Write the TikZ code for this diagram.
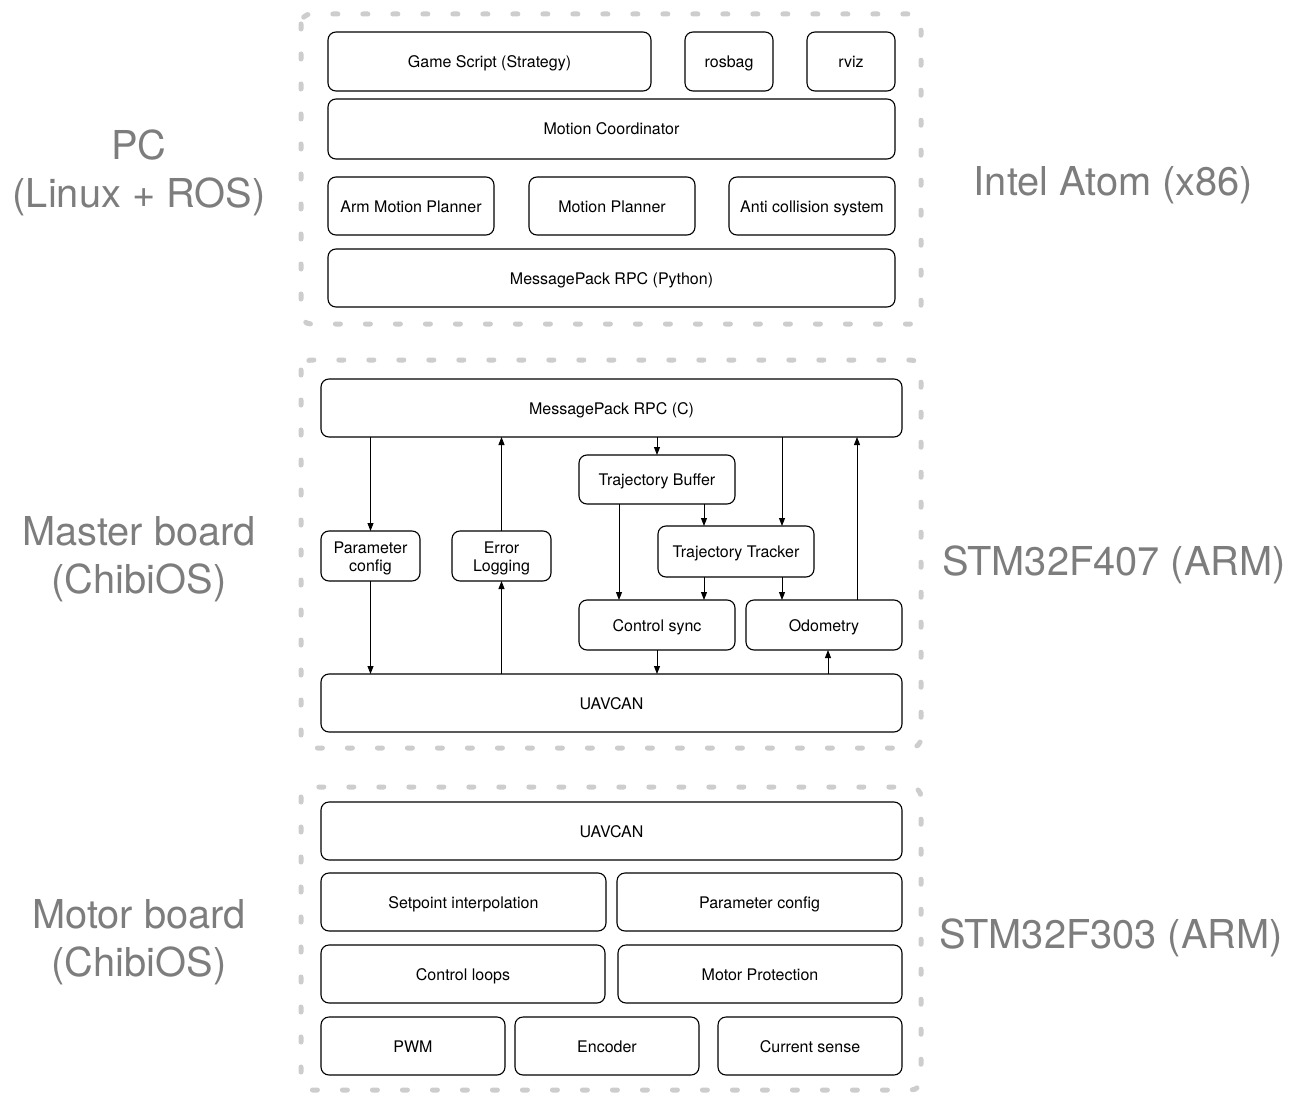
\documentclass[tikz,border=0pt]{standalone}
\usepackage{fontspec}
\setmainfont{TeX Gyre Heros}
\usetikzlibrary{positioning,arrows.meta}
\definecolor{framegray}{RGB}{205,205,205}
\definecolor{labelgray}{RGB}{125,125,125}

\begin{document}
\begin{tikzpicture}[
    x=1pt, y=-1pt,
    every node/.style={font=\fontsize{16}{18}\selectfont},
    box/.style={draw, line width=1.1pt, rounded corners=8pt, inner sep=0pt, outer sep=0pt,
        minimum height=58, text height=12pt, text depth=0pt, align=center},
    mbox/.style={draw, line width=1.1pt, rounded corners=8pt, inner sep=0pt, outer sep=0pt,
        text height=30pt, text depth=0pt, align=center},
    grp/.style={draw=framegray, line width=5pt, line cap=round, dash pattern=on 5pt off 25pt, rounded corners=10pt},
    side/.style={text=labelgray, align=center, font=\fontsize{39.8}{48}\selectfont},
    arr/.style={-{Triangle[length=8pt,width=6pt]}, line width=0.9pt}
]
\useasboundingbox (0,0) rectangle (1293,1105);

% groups
\draw[grp] (301,14) rectangle (921,324);
\draw[grp] (301,360) rectangle (921,748);
\draw[grp] (301,787) rectangle (921,1090);

% side labels
\node[side] (pc) at (139,173) {PC\\(Linux + ROS)};
\node[side] (master) at (139,559.5) {Master board\\(ChibiOS)};
\node[side] (motor) at (139,942) {Motor board\\(ChibiOS)};
\node[side] (atom) at (1113.5,185) {Intel Atom (x86)};
\node[side] (f407) at (1114,565) {STM32F407 (ARM)};
\node[side] (f303) at (1111,938) {STM32F303 (ARM)};

% PC
\node[box, minimum width=323, minimum height=59] (gs) at (489.5,61.5) {Game Script (Strategy)};
\node[box, minimum width=88, minimum height=59, right=34pt of gs] (rosbag) {rosbag};
\node[box, minimum width=88, minimum height=59, right=34pt of rosbag] (rviz) {rviz};
\node[box, minimum width=567, minimum height=60] (mc) at (611.5,129) {Motion Coordinator};
\node[box, minimum width=166] (amp) at (411,206) {Arm Motion Planner};
\node[box, minimum width=166, right=35pt of amp] (mp) {Motion Planner};
\node[box, minimum width=166, right=34pt of mp] (acs) {Anti collision system};
\node[box, minimum width=567] (rpcpy) at (611.5,278) {MessagePack RPC (Python)};

% master board
\node[box, minimum width=581] (rpcc) at (611.5,408) {MessagePack RPC (C)};
\node[box, minimum width=581] (uavm) at (611.5,703) {UAVCAN};
\node[mbox, minimum width=99, minimum height=50] (pcfg) at (370.5,556) {Parameter\\config};
\node[mbox, minimum width=99, minimum height=50, right=32pt of pcfg] (elog) {Error\\Logging};
\node[box, minimum width=156, minimum height=49] (tbuf) at (657,479.5) {Trajectory Buffer};
\node[box, minimum width=156, minimum height=51] (ttrk) at (736,551.5) {Trajectory Tracker};
\node[box, minimum width=156, minimum height=50] (csync) at (657,625) {Control sync};
\node[box, minimum width=156, minimum height=50, right=11pt of csync] (odom) {Odometry};

% arrow feet off the centre lines
\coordinate (trkin) at ([xshift=-32pt]ttrk.north east);
\coordinate (trkout) at ([xshift=-32pt]ttrk.south east);
\coordinate (trkcs) at ([xshift=46pt]ttrk.south west);
\coordinate (bufcs) at ([xshift=40pt]tbuf.south west);
\coordinate (buftrk) at ([xshift=-31pt]tbuf.south east);
\coordinate (odomout) at ([xshift=-45pt]odom.north east);
\coordinate (odomin) at ([xshift=4pt]odom.south);

\draw[arr] (rpcc.south -| pcfg.north) -- (pcfg.north);
\draw[arr] (pcfg.south) -- (pcfg.south |- uavm.north);
\draw[arr] (elog.north) -- (elog.north |- rpcc.south);
\draw[arr] (uavm.north -| elog.south) -- (elog.south);
\draw[arr] (rpcc.south -| tbuf.north) -- (tbuf.north);
\draw[arr] (rpcc.south -| trkin) -- (trkin);
\draw[arr] (odomout) -- (rpcc.south -| odomout);
\draw[arr] (bufcs) -- (csync.north -| bufcs);
\draw[arr] (buftrk) -- (ttrk.north -| buftrk);
\draw[arr] (trkcs) -- (csync.north -| trkcs);
\draw[arr] (trkout) -- (odom.north -| trkout);
\draw[arr] (csync.south) -- (csync.south |- uavm.north);
\draw[arr] (uavm.north -| odomin) -- (odomin);

% motor board
\node[box, minimum width=581] (uavb) at (611.5,831) {UAVCAN};
\node[box, minimum width=285] (spi) at (463.5,902) {Setpoint interpolation};
\node[box, minimum width=285, right=11pt of spi] (pcfgm) {Parameter config};
\node[box, minimum width=284] (cl) at (463,974) {Control loops};
\node[box, minimum width=284, right=13pt of cl] (mprot) {Motor Protection};
\node[box, minimum width=184] (pwm) at (413,1046) {PWM};
\node[box, minimum width=184, right=10pt of pwm] (enc) {Encoder};
\node[box, minimum width=184, right=19pt of enc] (cur) {Current sense};
\end{tikzpicture}
\end{document}
